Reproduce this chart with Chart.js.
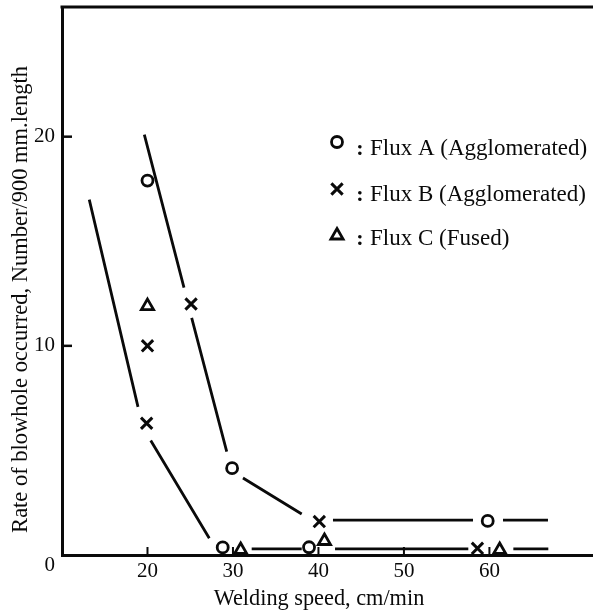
<!DOCTYPE html>
<html><head><meta charset="utf-8">
<script src="https://cdn.jsdelivr.net/npm/chart.js@4.4.1/dist/chart.umd.min.js"></script>
<style>html,body{margin:0;padding:0;background:#fff;}#wrap{width:593px;height:611px;}</style>
</head><body><div id="wrap"><canvas id="c" width="593" height="611"></canvas></div>
<script>
// ---- data ----
const xTicks = [20, 30, 40, 50, 60];
const yTicks = [0, 10, 20];
const xTitle = 'Welding speed, cm/min';
const yTitle = 'Rate of blowhole occurred, Number/900 mm.length';
const seriesNames = ['Flux A (Agglomerated)', 'Flux B (Agglomerated)', 'Flux C (Fused)'];

const fluxASpeed = [20, 29.9, 28.8, 38.9, 59.8];
const fluxARate  = [17.9, 4.15, 0.36, 0.37, 1.63];
const fluxBSpeed = [19.9, 20, 25.1, 40.1, 58.6];
const fluxBRate  = [6.3, 10.0, 12.0, 1.6, 0.32];
const fluxCSpeed = [20, 30.9, 40.7, 61.2];
const fluxCRate  = [11.9, 0.24, 0.67, 0.24];

// hand-drawn trend curves, broken where they pass markers: [speed, rate] pairs
const upperCurve = [
  [[19.63, 20.1], [24.27, 12.78]],
  [[25.17, 11.34], [29.27, 4.94]],
  [[31.17, 3.68], [38.04, 1.96]],
  [[41.7, 1.67], [58.08, 1.67]],
  [[61.59, 1.67], [66.85, 1.67]]
];
const lowerCurve = [
  [[13.19, 16.99], [18.89, 7.08]],
  [[20.38, 5.47], [27.23, 0.80]],
  [[32.19, 0.29], [38.04, 0.29]],
  [[41.94, 0.29], [57.53, 0.29]],
  [[62.8, 0.29], [66.89, 0.29]]
];

// ---- build library data ----
function pts(xs, ys) { return xs.map((v, i) => ({x: v, y: ys[i]})); }
function segs(list) {
  const out = [];
  list.forEach((s, i) => {
    if (i > 0) out.push({x: s[0][0], y: null});
    s.forEach(p => out.push({x: p[0], y: p[1]}));
  });
  return out;
}
const FONT = 'Liberation Serif';
const INK = '#0a0a0a';

const markerDefs = [
  {style: 'circle', radius: 5.5, bw: 2.8},
  {style: 'crossRot', radius: 8, bw: 3},
  {style: 'triangle', radius: 7, bw: 2.8}
];
const markerData = [pts(fluxASpeed, fluxARate), pts(fluxBSpeed, fluxBRate), pts(fluxCSpeed, fluxCRate)];

const datasets = [];
markerData.forEach((d, i) => {
  datasets.push({
    label: seriesNames[i], data: d, showLine: false, order: 0, clip: false,
    pointStyle: markerDefs[i].style, pointRadius: markerDefs[i].radius,
    pointBorderWidth: markerDefs[i].bw, pointBorderColor: INK,
    pointBackgroundColor: 'rgba(0,0,0,0)', pointHoverRadius: markerDefs[i].radius
  });
});
[upperCurve, lowerCurve].forEach((c, i) => {
  datasets.push({
    label: 'curve' + i, data: segs(c), showLine: true, spanGaps: false, order: 2,
    borderColor: INK, borderWidth: 2.8, pointRadius: 0, fill: false, clip: false
  });
});

const decor = {
  id: 'decor',
  afterDraw(chart) {
    const {ctx, chartArea: a, scales: {x, y}} = chart;
    ctx.save();
    ctx.strokeStyle = INK; ctx.fillStyle = INK; ctx.lineCap = 'butt';
    // top frame line
    ctx.lineWidth = 3;
    ctx.beginPath(); ctx.moveTo(a.left - 1.5, a.top); ctx.lineTo(chart.width, a.top); ctx.stroke();
    // inward ticks
    ctx.lineWidth = 2;
    xTicks.forEach(v => { const px = x.getPixelForValue(v); ctx.beginPath(); ctx.moveTo(px, a.bottom); ctx.lineTo(px, a.bottom - 8); ctx.stroke(); });
    ctx.lineWidth = 2.5;
    yTicks.filter(v => v > 0).forEach(v => { const py = y.getPixelForValue(v); ctx.beginPath(); ctx.moveTo(a.left, py); ctx.lineTo(a.left + 10, py); ctx.stroke(); });
    // axis titles
    ctx.textAlign = 'center'; ctx.textBaseline = 'alphabetic';
    ctx.font = '22.3px "' + FONT + '"';
    ctx.fillText(xTitle, 319, 605);
    ctx.font = '22.5px "' + FONT + '"';
    ctx.save(); ctx.translate(27, 299.5); ctx.rotate(-Math.PI / 2); ctx.fillText(yTitle, 0, 0); ctx.restore();
    // legend
    const markerY = [142, 189, 235.5];
    const baseY = [154.5, 201, 245];
    seriesNames.forEach((name, i) => {
      const m = markerDefs[i];
      ctx.lineWidth = m.bw; ctx.strokeStyle = INK; ctx.fillStyle = 'rgba(0,0,0,0)';
      Chart.helpers.drawPoint(ctx, {pointStyle: m.style, radius: m.radius, rotation: 0, borderWidth: m.bw}, 337, markerY[i]);
      ctx.fillStyle = INK;
      ctx.textAlign = 'center';
      ctx.font = 'bold 22px "' + FONT + '"';
      ctx.fillText(':', 360, baseY[i]);
      ctx.textAlign = 'left';
      ctx.font = '23px "' + FONT + '"';
      ctx.fillText(name, 370, baseY[i]);
    });
    ctx.restore();
  }
};

new Chart(document.getElementById('c'), {
  type: 'scatter',
  data: {datasets},
  options: {
    responsive: false, animation: false, devicePixelRatio: 1,
    layout: {autoPadding: false, padding: {top: 7, right: 1, left: 0, bottom: 0}},
    plugins: {legend: {display: false}, tooltip: {enabled: false}},
    scales: {
      x: {
        type: 'linear', position: 'bottom', min: 10, max: 72,
        afterBuildTicks: s => { s.ticks = xTicks.map(v => ({value: v})); },
        afterFit: s => { s.height = 56; s.paddingLeft = 0; s.paddingRight = 0; },
        grid: {display: false, drawTicks: false},
        border: {display: true, color: INK, width: 3},
        ticks: {color: INK, font: {family: FONT, size: 21, lineHeight: 1.2}, padding: 4, maxRotation: 0, autoSkip: false}
      },
      y: {
        type: 'linear', position: 'left', min: 0, max: 26.2,
        afterBuildTicks: s => { s.ticks = yTicks.map(v => ({value: v})); },
        afterFit: s => { s.width = 62; s.paddingTop = 0; s.paddingBottom = 0; },
        grid: {display: false, drawTicks: false},
        border: {display: true, color: INK, width: 3},
        ticks: {color: INK, font: {family: FONT, size: 21, lineHeight: 1}, padding: 7,
          callback: v => v === 0 ? ['', '0'] : String(v)}
      }
    }
  },
  plugins: [decor]
});
</script>
</body></html>
